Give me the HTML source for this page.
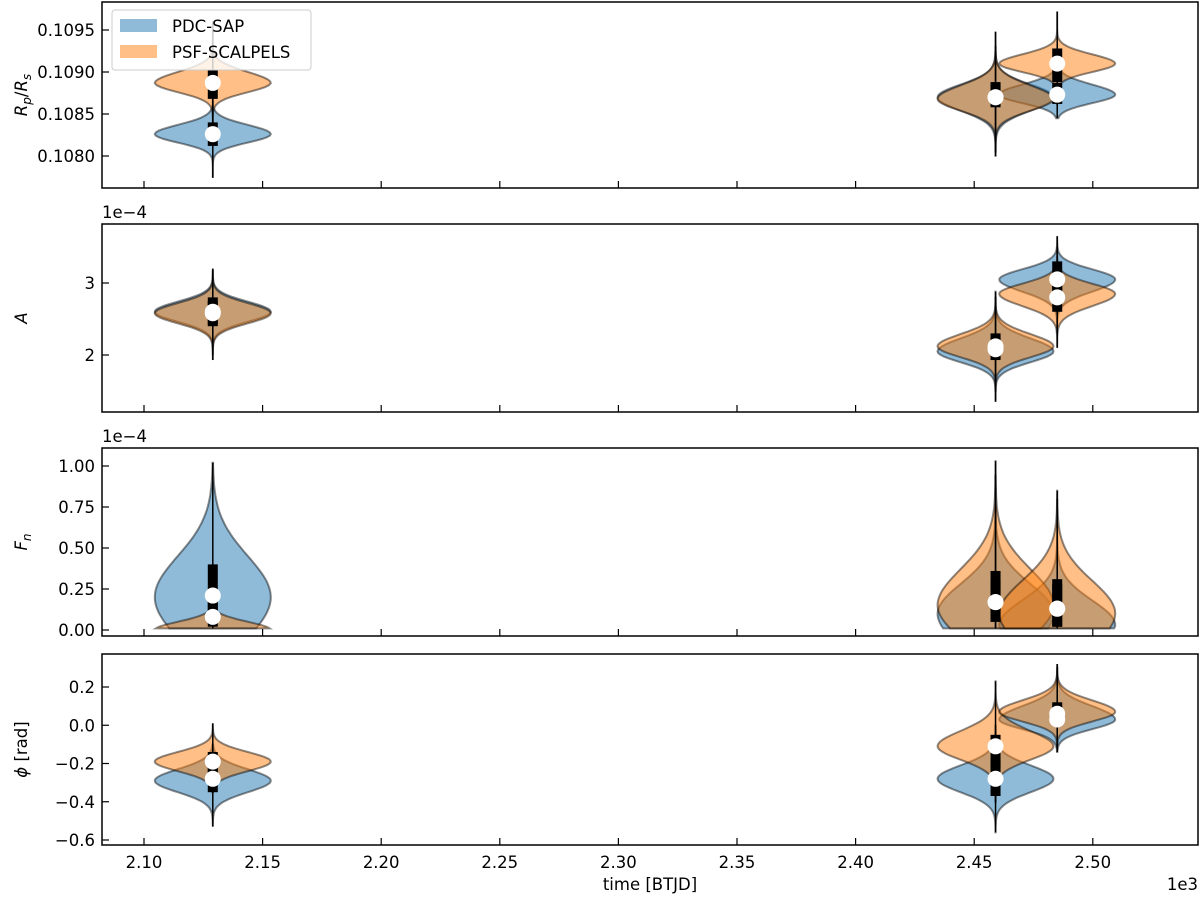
<!DOCTYPE html>
<html><head><meta charset="utf-8">
<style>
body{margin:0;background:#fff;}
svg text{font-family:"DejaVu Sans","Liberation Sans",sans-serif;fill:#000;}
</style></head>
<body>
<svg id="chart" width="1200" height="896" viewBox="0 0 1200 896" xmlns="http://www.w3.org/2000/svg">
</svg>
<script>
// ---- data ----
const times = [2129, 2459, 2485];
const xTicks = [2.10, 2.15, 2.20, 2.25, 2.30, 2.35, 2.40, 2.45, 2.50];
const xTickLabels = ["2.10","2.15","2.20","2.25","2.30","2.35","2.40","2.45","2.50"];
const series = ["PDC-SAP", "PSF-SCALPELS"];

// Panel 1: Rp/Rs
const rpPeak = [[0.10826,0.10870,0.10873],[0.10887,0.10868,0.10910]];
const rpSLo = [[0.00010,0.00016,0.00010],[0.00011,0.00014,0.00010]];
const rpSHi = [[0.00011,0.00015,0.00012],[0.00013,0.00016,0.00011]];
const rpLo = [[0.10774,0.10800,0.10845],[0.10818,0.10805,0.10860]];
const rpHi = [[0.10890,0.10948,0.10912],[0.10960,0.10930,0.10972]];
const rpMed = [[0.10826,0.10870,0.10873],[0.10887,0.10870,0.10910]];
const rpQ1 = [[0.10812,0.10858,0.10862],[0.10868,0.10860,0.10888]];
const rpQ3 = [[0.10840,0.10888,0.10887],[0.10902,0.10885,0.10928]];

// Panel 2: A (1e-4)
const aPeak = [[2.60,2.05,3.05],[2.58,2.12,2.85]];
const aSLo = [[0.14,0.15,0.17],[0.14,0.15,0.17]];
const aSHi = [[0.14,0.18,0.14],[0.14,0.17,0.14]];
const aLo = [[1.93,1.35,2.30],[2.00,1.50,2.10]];
const aHi = [[3.18,2.80,3.65],[3.20,2.88,3.50]];
const aMed = [[2.60,2.08,3.05],[2.58,2.12,2.80]];
const aQ1 = [[2.40,1.93,2.80],[2.42,1.95,2.60]];
const aQ3 = [[2.80,2.30,3.30],[2.75,2.25,3.12]];

// Panel 3: Fn (1e-4)
const fPeak = [[0.20,0.10,0.03],[0.00,0.15,0.10]];
const fSLo = [[0.25,0.20,0.10],[0.05,0.20,0.20]];
const fSHi = [[0.25,0.18,0.15],[0.05,0.22,0.20]];
const fLo = [[0.01,0.01,0.01],[0.01,0.01,0.01]];
const fHi = [[1.02,0.95,0.80],[0.35,1.03,0.85]];
const fMed = [[0.21,0.17,0.13],[0.08,0.17,0.13]];
const fQ1 = [[0.05,0.05,0.02],[0.02,0.05,0.02]];
const fQ3 = [[0.40,0.36,0.31],[0.20,0.30,0.28]];

// Panel 4: phi (rad)
const pPeak = [[-0.29,-0.28,0.03],[-0.19,-0.11,0.07]];
const pSLo = [[0.06,0.07,0.05],[0.05,0.07,0.05]];
const pSHi = [[0.06,0.07,0.07],[0.05,0.08,0.06]];
const pLo = [[-0.53,-0.56,-0.14],[-0.35,-0.40,-0.12]];
const pHi = [[-0.10,0.00,0.30],[0.01,0.23,0.32]];
const pMed = [[-0.28,-0.28,0.03],[-0.19,-0.11,0.06]];
const pQ1 = [[-0.35,-0.37,0.00],[-0.25,-0.22,0.02]];
const pQ3 = [[-0.22,-0.18,0.10],[-0.14,-0.05,0.12]];

const yTicks1 = [0.1080,0.1085,0.1090,0.1095], yLab1 = ["0.1080","0.1085","0.1090","0.1095"];
const yTicks2 = [2,3], yLab2 = ["2","3"];
const yTicks3 = [0,0.25,0.5,0.75,1.0], yLab3 = ["0.00","0.25","0.50","0.75","1.00"];
const yTicks4 = [-0.6,-0.4,-0.2,0.0,0.2], yLab4 = ["−0.6","−0.4","−0.2","0.0","0.2"];

// ---- layout ----
const svg = document.getElementById('chart');
const NS = "http://www.w3.org/2000/svg";
const X0 = 102, X1 = 1198;
const px = t => 144 + (t - 2.10) / 0.05 * 118.6;
const halfW = 58;
const colors = ["rgba(31,119,180,0.5)", "rgba(255,127,14,0.5)"];
const FS = 16.5;

const panels = [
  {name:"rp", top:2, bot:188, y:v=>156-(v-0.108)*84000, peak:rpPeak,sLo:rpSLo,sHi:rpSHi,lo:rpLo,hi:rpHi,med:rpMed,q1:rpQ1,q3:rpQ3,ticks:yTicks1,labs:yLab1,label:"R_p/R_s"},
  {name:"a", top:224, bot:412, y:v=>355-(v-2)*72, peak:aPeak,sLo:aSLo,sHi:aSHi,lo:aLo,hi:aHi,med:aMed,q1:aQ1,q3:aQ3,ticks:yTicks2,labs:yLab2,label:"A",off:"1e−4"},
  {name:"fn", top:448, bot:636, y:v=>630-v*164, peak:fPeak,sLo:fSLo,sHi:fSHi,lo:fLo,hi:fHi,med:fMed,q1:fQ1,q3:fQ3,ticks:yTicks3,labs:yLab3,label:"F_n",off:"1e−4"},
  {name:"phi", top:654, bot:845, y:v=>840-(v+0.6)*191.25, peak:pPeak,sLo:pSLo,sHi:pSHi,lo:pLo,hi:pHi,med:pMed,q1:pQ1,q3:pQ3,ticks:yTicks4,labs:yLab4,label:"phi"}
];

function mk(tag, attrs, parent){
  const e = document.createElementNS(NS, tag);
  for (const k in attrs) e.setAttribute(k, attrs[k]);
  (parent||svg).appendChild(e);
  return e;
}

panels.forEach((P, pi) => {
  const g = mk('g', {});
  
  
  for (let s = 0; s < 2; s++) {
    for (let i = 0; i < times.length; i++) {
      const cx = px(times[i] / 1000);
      const pk = P.peak[s][i], lo = P.lo[s][i], hi = P.hi[s][i];
      const sl = P.sLo[s][i], sh = P.sHi[s][i];
      const N = 60, right = [], left = [];
      for (let k = 0; k <= N; k++) {
        const v = lo + (hi - lo) * k / N;
        const sd = v < pk ? sl : sh;
        const w = Math.exp(-0.5 * Math.pow((v - pk) / sd, 2)) * halfW;
        const yy = P.y(v);
        right.push((cx + w).toFixed(1) + "," + yy.toFixed(1));
        left.unshift((cx - w).toFixed(1) + "," + yy.toFixed(1));
      }
      const path = mk('polygon', {points: right.concat(left).join(" "), fill: colors[s], stroke: "rgba(0,0,0,0.45)", "stroke-width": 2}, g);
      
      
    }
  }
  for (let s = 0; s < 2; s++) {
    for (let i = 0; i < times.length; i++) {
      const cx = px(times[i] / 1000);
      const wl = mk('line', {x1:cx, x2:cx, y1:P.y(P.lo[s][i]), y2:P.y(P.hi[s][i]), stroke:"#000", "stroke-width":1.5}, g);
      
      
      const b = mk('rect', {x:cx-5, y:P.y(P.q3[s][i]), width:10, height:P.y(P.q1[s][i])-P.y(P.q3[s][i]), fill:"#000"}, g);
      
      
    }
  }
  for (let s = 0; s < 2; s++) {
    for (let i = 0; i < times.length; i++) {
      const cx = px(times[i] / 1000);
      const m = mk('circle', {cx:cx, cy:P.y(P.med[s][i]), r:8, fill:"#fff"}, g);
      
      
    }
  }
  const fr = mk('rect', {x:X0, y:P.top, width:X1-X0, height:P.bot-P.top, fill:"none", stroke:"#000", "stroke-width":1.5}, g);
  
  
  P.ticks.forEach((t, k) => {
    const yy = P.y(t);
    mk('line', {x1:X0, x2:X0+7, y1:yy, y2:yy, stroke:"#000", "stroke-width":1.2}, g);
    const tx = mk('text', {x:X0-7, y:yy+6, "text-anchor":"end", "font-size":FS}, g);
    tx.textContent = P.labs[k];
    
    
  });
  xTicks.forEach((t, k) => {
    const xx = px(t);
    mk('line', {x1:xx, x2:xx, y1:P.bot, y2:P.bot-7, stroke:"#000", "stroke-width":1.2}, g);
    if (pi === 3) {
      const tx = mk('text', {x:xx, y:P.bot+23, "text-anchor":"middle", "font-size":FS}, g);
      tx.textContent = xTickLabels[k];
      
      
    }
  });
  const cy = (P.top + P.bot) / 2;
  const yl = mk('text', {x:0, y:0, "text-anchor":"middle", "font-size":FS, transform:`translate(27,${cy}) rotate(-90)`}, g);
  
  
  if (P.label === "R_p/R_s") {
    yl.innerHTML = '<tspan font-style="italic">R</tspan><tspan font-style="italic" font-size="12" dy="4">p</tspan><tspan dy="-4">/</tspan><tspan font-style="italic">R</tspan><tspan font-style="italic" font-size="12" dy="4">s</tspan>';
  } else if (P.label === "F_n") {
    yl.innerHTML = '<tspan font-style="italic">F</tspan><tspan font-style="italic" font-size="12" dy="4">n</tspan>';
  } else if (P.label === "phi") {
    yl.innerHTML = '<tspan font-style="italic">ϕ</tspan> [rad]';
  } else {
    yl.innerHTML = '<tspan font-style="italic">A</tspan>';
  }
  if (P.off) {
    const o = mk('text', {x:X0, y:P.top-6, "font-size":FS}, g);
    o.textContent = P.off;
    
    
  }
});

const xt = mk('text', {x:650, y:890, "text-anchor":"middle", "font-size":FS});
xt.textContent = "time [BTJD]";


const xo = mk('text', {x:1198, y:890, "text-anchor":"end", "font-size":FS});
xo.textContent = "1e3";



const lg = mk('g', {});


mk('rect', {x:112, y:10, width:199, height:60, rx:3, fill:"rgba(255,255,255,0.8)", stroke:"#ccc", "stroke-width":1}, lg);
series.forEach((s, k) => {
  const sw = mk('rect', {x:120, y:19 + k*26, width:37, height:13, fill:colors[k]}, lg);
  
  
  const t = mk('text', {x:172, y:32 + k*26, "font-size":FS}, lg);
  t.textContent = s;
  
  
});
</script>
</body></html>
